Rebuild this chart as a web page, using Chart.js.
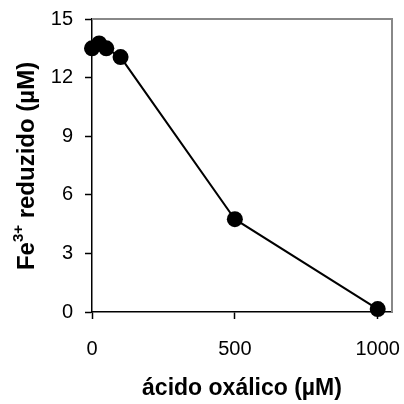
<!DOCTYPE html>
<html>
<head>
<meta charset="utf-8">
<script src="https://cdn.jsdelivr.net/npm/chart.js@4"></script>
<style>
  html, body { margin: 0; padding: 0; background: #fff; }
  #wrap { width: 404px; height: 404px; }
</style>
</head>
<body>
<div id="wrap"><canvas id="fe_chart" width="404" height="404"></canvas></div>
<script>
const chart_element = document.getElementById("fe_chart");

// oxalic acid concentration (µM) and reduced Fe3+ (µM)
const oxalic_acid = [0, 25, 50, 100, 500, 1000];
const fe_reduced = [13.5, 13.75, 13.5, 13.05, 4.75, 0.15];

const x_ticks = [0, 500, 1000];
const y_ticks = [0, 3, 6, 9, 12, 15];

const x_title = "ácido oxálico (µM)";
const y_title = ["Fe", "3+", " reduzido (µM)"];

const tick_font = { family: "'Liberation Sans', Arial, sans-serif", size: 20 };

// top/right frame lines and the y title with superscript
const extras = {
    id: "extras",
    afterDraw(chart) {
        const ctx = chart.ctx;
        const area = chart.chartArea;
        ctx.save();
        ctx.strokeStyle = "#888";
        ctx.lineWidth = 2;
        ctx.beginPath();
        ctx.moveTo(area.left, area.top);
        ctx.lineTo(area.right, area.top);
        ctx.lineTo(area.right, area.bottom);
        ctx.stroke();
        ctx.restore();

        ctx.save();
        const big = "bold 24px 'Liberation Sans', Arial, sans-serif";
        const small = "bold 15px 'Liberation Sans', Arial, sans-serif";
        ctx.font = big;
        const w0 = ctx.measureText(y_title[0]).width;
        const w2 = ctx.measureText(y_title[2]).width;
        ctx.font = small;
        const w1 = ctx.measureText(y_title[1]).width;
        const total = w0 + w1 + w2;
        ctx.translate(34, 166);
        ctx.rotate(-Math.PI / 2);
        ctx.fillStyle = "#000";
        ctx.textBaseline = "alphabetic";
        ctx.textAlign = "left";
        let x = -total / 2;
        ctx.font = big;
        ctx.fillText(y_title[0], x, 0);
        x += w0;
        ctx.font = small;
        ctx.fillText(y_title[1], x, -11);
        x += w1;
        ctx.font = big;
        ctx.fillText(y_title[2], x, 0);
        ctx.restore();
    }
};

const chart = new Chart(chart_element, {
    type: "line",
    data: {
        datasets: [{
            label: "Fe3+ reduzido",
            data: oxalic_acid.map((c, i) => ({ x: c, y: fe_reduced[i] })),
            borderColor: "#000",
            borderWidth: 2,
            backgroundColor: "#000",
            pointRadius: 8,
            pointBorderWidth: 0,
            pointBackgroundColor: "#000",
            tension: 0,
            clip: false
        }]
    },
    options: {
        responsive: false,
        animation: false,
        layout: { padding: { top: 19, right: 12, left: 0, bottom: 0 } },
        plugins: {
            legend: { display: false },
            tooltip: { enabled: false }
        },
        scales: {
            x: {
                type: "linear",
                min: 0,
                max: 1050,
                afterBuildTicks: (scale) => { scale.ticks = x_ticks.map(v => ({ value: v })); },
                afterFit: (scale) => {
                    scale.height = 92;
                    scale.paddingLeft = 0;
                    scale.paddingRight = 0;
                },
                grid: { drawOnChartArea: false, tickLength: 7, color: "#000", tickWidth: 1.5 },
                border: { color: "#000", width: 1.5 },
                ticks: { font: tick_font, color: "#000", padding: 18, maxRotation: 0, callback: (v) => String(v) },
                title: {
                    display: true,
                    text: x_title,
                    font: { family: "'Liberation Sans', Arial, sans-serif", size: 23, weight: "bold" },
                    color: "#000",
                    padding: { top: 0, bottom: 2 }
                }
            },
            y: {
                min: 0,
                max: 15,
                afterBuildTicks: (scale) => { scale.ticks = y_ticks.map(v => ({ value: v })); },
                afterFit: (scale) => {
                    scale.width = 92;
                    scale.paddingTop = 0;
                    scale.paddingBottom = 0;
                },
                grid: { drawOnChartArea: false, tickLength: 7, color: "#000", tickWidth: 1.5 },
                border: { color: "#000", width: 1.5 },
                ticks: { font: tick_font, color: "#000", padding: 12, callback: (v) => String(v) }
            }
        }
    },
    plugins: [extras]
});
</script>
</body>
</html>
